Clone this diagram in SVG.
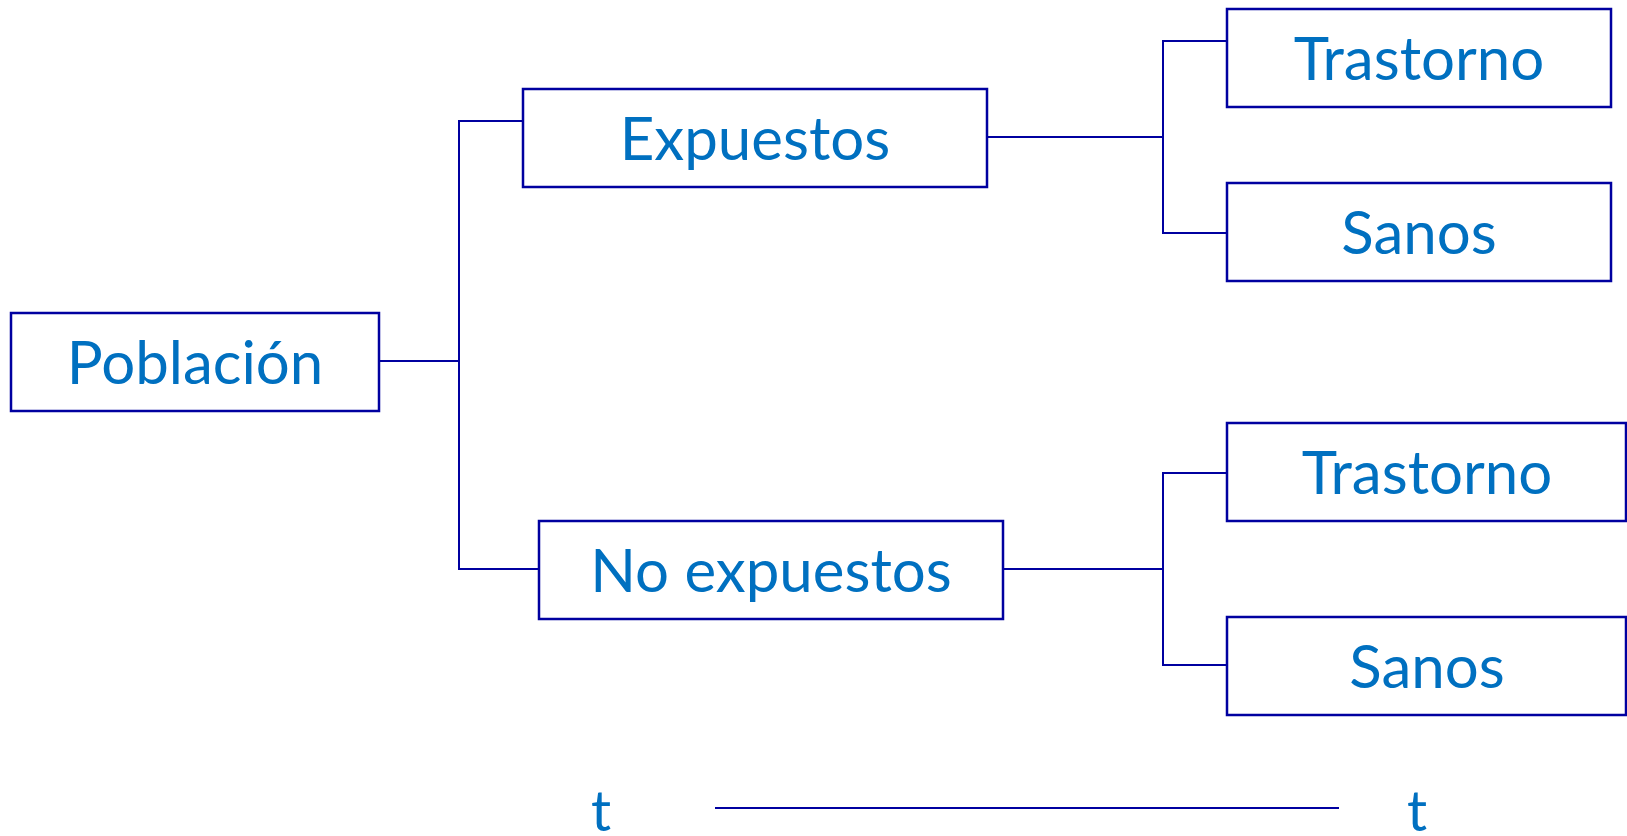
<svg xmlns="http://www.w3.org/2000/svg" width="1627" height="836" viewBox="0 0 1627 836">
<style>
.box{fill:#FFFFFF;stroke:#0000A0;stroke-width:2.5}
.lbl{fill:#0070C0;font-family:"Gill Sans MT","Gill Sans",Lato,"Liberation Sans",sans-serif;font-size:60px;text-anchor:middle}
.tm{font-size:56px}
.con{fill:none;stroke:#0000A0;stroke-width:2}
</style>
<rect width="1627" height="836" fill="#FFFFFF"/>
<g id="connectors">
<polyline class="con" points="379,361 459,361"/>
<polyline class="con" points="523,121 459,121 459,569 539,569"/>
<polyline class="con" points="987,137 1163,137"/>
<polyline class="con" points="1227,41 1163,41 1163,233 1227,233"/>
<polyline class="con" points="1003,569 1163,569"/>
<polyline class="con" points="1227,473 1163,473 1163,665 1227,665"/>
<line class="con" x1="715" y1="808" x2="1339" y2="808"/>
</g>
<g id="poblacion">
<rect class="box" x="11" y="313" width="368" height="98"/>
<text class="lbl" x="195" y="384">Población</text>
</g>
<g id="expuestos">
<rect class="box" x="523" y="89" width="464" height="98"/>
<text class="lbl" x="755" y="160">Expuestos</text>
</g>
<g id="no-expuestos">
<rect class="box" x="539" y="521" width="464" height="98"/>
<text class="lbl" x="771" y="592">No expuestos</text>
</g>
<g id="trastorno-1">
<rect class="box" x="1227" y="9" width="384" height="98"/>
<text class="lbl" x="1419" y="80">Trastorno</text>
</g>
<g id="sanos-1">
<rect class="box" x="1227" y="183" width="384" height="98"/>
<text class="lbl" x="1419" y="254">Sanos</text>
</g>
<g id="trastorno-2">
<rect class="box" x="1227" y="423" width="399" height="98"/>
<text class="lbl" x="1427" y="494">Trastorno</text>
</g>
<g id="sanos-2">
<rect class="box" x="1227" y="617" width="399" height="98"/>
<text class="lbl" x="1427" y="688">Sanos</text>
</g>
<g id="time">
<text class="lbl tm" x="601" y="831">t</text>
<text class="lbl tm" x="1417" y="831">t</text>
</g>
</svg>
